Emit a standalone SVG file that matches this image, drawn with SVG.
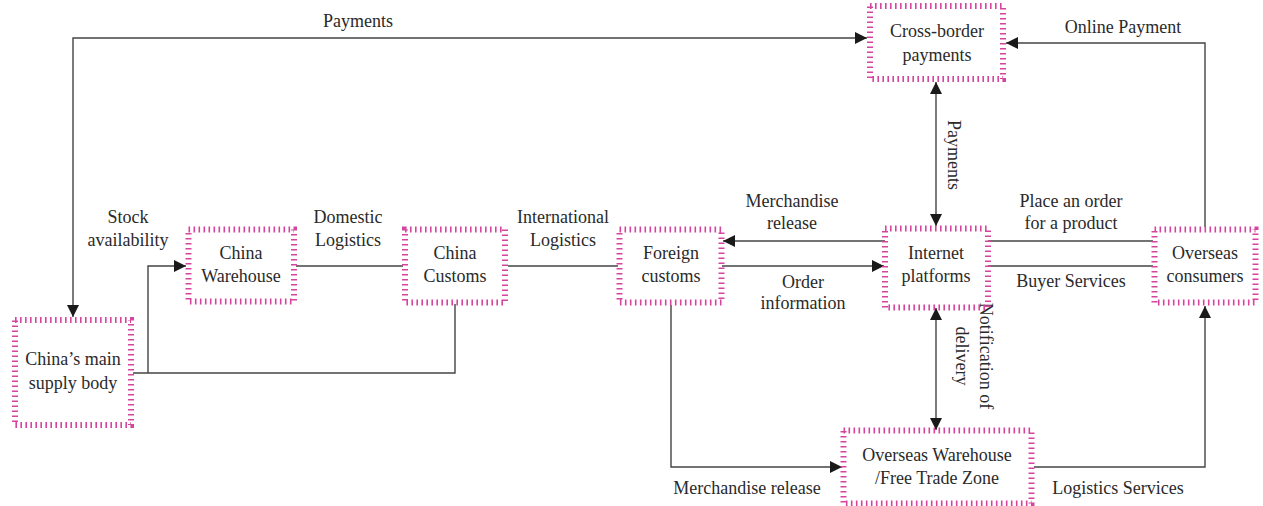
<svg xmlns="http://www.w3.org/2000/svg" width="1263" height="506" viewBox="0 0 1263 506">
<style>
.box{fill:none;stroke:#d5449e;stroke-width:6;stroke-dasharray:1.6 3.4}
.t{font-family:"Liberation Serif","Times New Roman",serif;font-size:18px;fill:#2a2a2a;text-anchor:middle}
.c{fill:none;stroke:#444;stroke-width:1.4}
</style>
<defs>
<marker id="ah" viewBox="0 0 12 12" refX="12" refY="6" markerWidth="12" markerHeight="12" markerUnits="userSpaceOnUse" orient="auto-start-reverse">
<path d="M0,0 L12,6 L0,12 z" fill="#1a1a1a"/>
</marker>
</defs>
<rect width="1263" height="506" fill="#fff"/>
<g id="connectors">
<path class="c" d="M73,317 V38 H867" marker-start="url(#ah)" marker-end="url(#ah)"/>
<path class="c" d="M1205,227 V43 H1006" marker-end="url(#ah)"/>
<path class="c" d="M936,82 V226" marker-start="url(#ah)" marker-end="url(#ah)"/>
<path class="c" d="M885,241 H723" marker-end="url(#ah)"/>
<path class="c" d="M722,266 H884" marker-end="url(#ah)"/>
<path class="c" d="M988,241 H1153"/>
<path class="c" d="M988,266 H1153"/>
<path class="c" d="M936,308 V430" marker-start="url(#ah)" marker-end="url(#ah)"/>
<path class="c" d="M671,305 V467 H842" marker-end="url(#ah)"/>
<path class="c" d="M1034,467 H1205 V306" marker-end="url(#ah)"/>
<path class="c" d="M133,373 H455 V304"/>
<path class="c" d="M148,373 V266 H186" marker-end="url(#ah)"/>
<path class="c" d="M296,266 H403"/>
<path class="c" d="M508,266 H618"/>
<text class="t" x="358" y="27">Payments</text>
<text class="t" x="1123" y="33">Online Payment</text>
<text class="t" transform="translate(948,155) rotate(90)">Payments</text>
<text class="t" transform="translate(980,356) rotate(90)">Notification of<tspan x="0" dy="24">delivery</tspan></text>
<text class="t" x="128" y="223">Stock<tspan x="128" dy="23">availability</tspan></text>
<text class="t" x="348" y="223">Domestic<tspan x="348" dy="23">Logistics</tspan></text>
<text class="t" x="563" y="223">International<tspan x="563" dy="23">Logistics</tspan></text>
<text class="t" x="792" y="207">Merchandise<tspan x="792" dy="22">release</tspan></text>
<text class="t" x="1071" y="207">Place an order<tspan x="1071" dy="22">for a product</tspan></text>
<text class="t" x="803" y="288">Order<tspan x="803" dy="21">information</tspan></text>
<text class="t" x="1071" y="287">Buyer Services</text>
<text class="t" x="747" y="494">Merchandise release</text>
<text class="t" x="1118" y="494">Logistics Services</text>
</g>
<g id="cross-border">
<rect class="box" x="870" y="6" width="133" height="73"/>
<text class="t" x="937" y="37">Cross-border<tspan x="937" dy="24">payments</tspan></text>
</g>
<g id="supply-body">
<rect class="box" x="15" y="320" width="116" height="105"/>
<text class="t" x="73" y="365">China’s main<tspan x="73" dy="24">supply body</tspan></text>
</g>
<g id="china-warehouse">
<rect class="box" x="188.5" y="229.5" width="105.5" height="72"/>
<text class="t" x="241" y="259">China<tspan x="241" dy="23">Warehouse</tspan></text>
</g>
<g id="china-customs">
<rect class="box" x="405" y="229.5" width="100" height="73"/>
<text class="t" x="455" y="259">China<tspan x="455" dy="23">Customs</tspan></text>
</g>
<g id="foreign-customs">
<rect class="box" x="619.5" y="229.5" width="102" height="73"/>
<text class="t" x="671" y="259">Foreign<tspan x="671" dy="23">customs</tspan></text>
</g>
<g id="internet-platforms">
<rect class="box" x="885" y="228.5" width="103" height="79"/>
<text class="t" x="936" y="259">Internet<tspan x="936" dy="23">platforms</tspan></text>
</g>
<g id="overseas-consumers">
<rect class="box" x="1154.5" y="229.5" width="101" height="73"/>
<text class="t" x="1205" y="259">Overseas<tspan x="1205" dy="23">consumers</tspan></text>
</g>
<g id="overseas-warehouse">
<rect class="box" x="843.5" y="430.5" width="188" height="73"/>
<text class="t" x="937" y="461">Overseas Warehouse<tspan x="937" dy="23">/Free Trade Zone</tspan></text>
</g>
</svg>
